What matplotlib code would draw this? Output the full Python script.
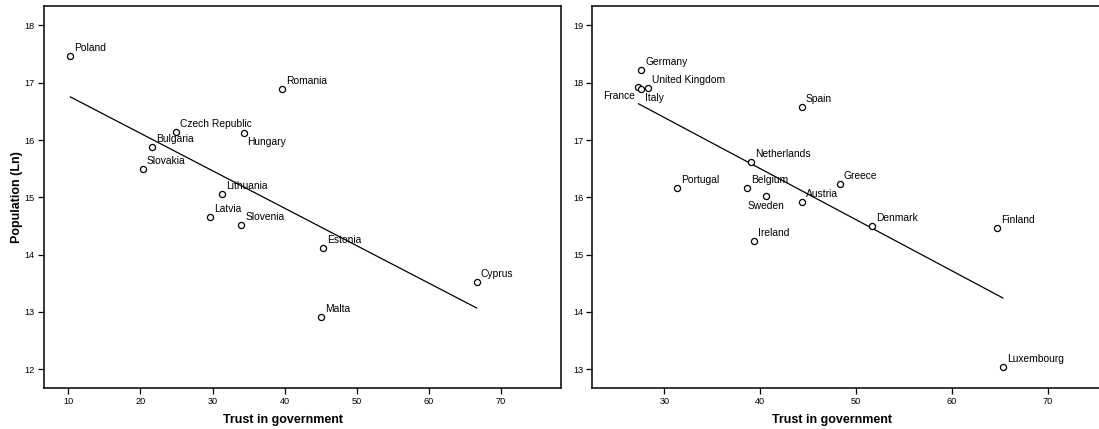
import numpy as np
import matplotlib.pyplot as plt

plt.rcParams['font.family'] = ['Liberation Sans', 'DejaVu Sans']

# ----- data ---------------------------------------------------------

east_names = ["Poland", "Romania", "Czech Republic", "Hungary", "Bulgaria",
              "Slovakia", "Lithuania", "Latvia", "Slovenia", "Estonia",
              "Cyprus", "Malta"]
east_trust = [10.3, 39.6, 25.0, 34.3, 21.6, 20.3, 31.3, 29.6, 34.0, 45.3,
              66.6, 45.0]
east_pop = [17.46, 16.89, 16.14, 16.13, 15.87, 15.50, 15.05, 14.65, 14.51,
            14.12, 13.52, 12.91]

west_names = ["Germany", "France", "Italy", "United Kingdom", "Spain",
              "Netherlands", "Portugal", "Belgium", "Sweden", "Austria",
              "Greece", "Denmark", "Finland", "Ireland", "Luxembourg"]
west_trust = [27.6, 27.3, 27.6, 28.3, 44.3, 39.0, 31.3, 38.6, 40.6, 44.3,
              48.3, 51.7, 64.7, 39.3, 65.3]
west_pop = [18.23, 17.92, 17.89, 17.91, 17.58, 16.61, 16.17, 16.16, 16.02,
            15.92, 16.23, 15.50, 15.47, 15.23, 13.03]

# label placement exceptions (default: upper right of the point)
placement = {
    "Hungary": "lr",
    "France": "ll",
    "Italy": "lr",
    "Sweden": "b",
}

# ----- helper -------------------------------------------------------

offsets = {
    "ur": ((4, 3), "left", "bottom"),
    "lr": ((4, -4), "left", "top"),
    "ll": ((-3, -4), "right", "top"),
    "b": ((0, -5), "center", "top"),
}


def draw_panel(ax, names, x, y, xlim, ylim, xticks, yticks):
    x = np.array(x)
    y = np.array(y)
    ax.plot(x, y, "o", ms=4.4, mfc="white", mec="black", mew=0.9,
            zorder=3)

    slope, icpt = np.polyfit(x, y, 1)
    xs = np.array([x.min(), x.max()])
    ax.plot(xs, icpt + slope * xs, color="black", lw=0.9, zorder=2)

    for n, xi, yi in zip(names, x, y):
        off, ha, va = offsets[placement.get(n, "ur")]
        ax.annotate(n, (xi, yi), xytext=off, textcoords="offset pixels",
                    ha=ha, va=va, fontsize=7.4, zorder=4,
                    annotation_clip=False)

    ax.set_xlim(*xlim)
    ax.set_ylim(*ylim)
    ax.set_xticks(xticks)
    ax.set_yticks(yticks)
    ax.tick_params(direction="out", length=4.5, width=0.9, labelsize=6.6,
                   pad=2)
    for s in ax.spines.values():
        s.set_linewidth(1.1)
    ax.set_xlabel("Trust in government", fontsize=9, fontweight="bold")
    ax.xaxis.set_label_coords(0.463, -0.067)


# ----- plot ---------------------------------------------------------

fig = plt.figure(figsize=(10.99, 4.29), dpi=100)
ax1 = fig.add_axes([0.0400, 0.0956, 0.4704, 0.8904])
ax2 = fig.add_axes([0.5390, 0.0956, 0.4704, 0.8904])

draw_panel(ax1, east_names, east_trust, east_pop,
           (6.63, 78.3), (11.67, 18.34),
           range(10, 80, 10), range(12, 19))
draw_panel(ax2, west_names, west_trust, west_pop,
           (22.49, 76.4), (12.67, 19.34),
           range(30, 80, 10), range(13, 20))

ax1.set_ylabel("Population (Ln)", fontsize=9, fontweight="bold")
ax1.yaxis.set_label_coords(-0.041, 0.5)

fig.savefig("out.png", dpi=100)
